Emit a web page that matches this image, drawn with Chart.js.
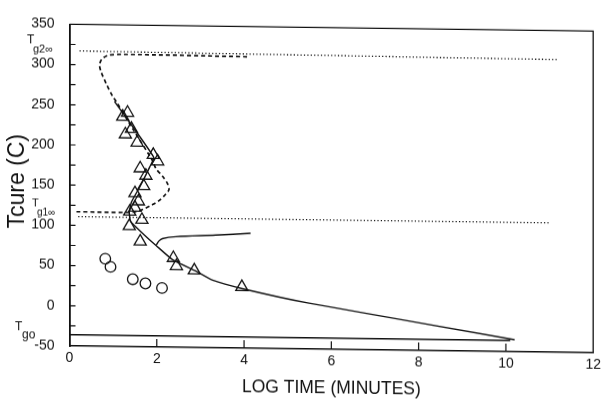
<!DOCTYPE html>
<html>
<head>
<meta charset="utf-8">
<script src="https://cdn.jsdelivr.net/npm/chart.js@4.4.1/dist/chart.umd.min.js"></script>
<style>
  html, body { margin: 0; padding: 0; background: #fff; }
  #wrap { width: 605px; height: 400px; transform: skewY(0.75deg); transform-origin: 0 0; }
</style>
</head>
<body>
<div id="wrap"><canvas id="c" width="605" height="400"></canvas></div>
<script>
// Axis ticks
const xTickValues = [0, 2, 4, 6, 8, 10, 12];
const yTickValues = [-50, 0, 50, 100, 150, 200, 250, 300, 350];

// Glass transition reference lines (log time, temperature)
const tg2X = [0.23, 11.2];  const tg2Y = [317, 314];   // Tg2 infinity (dotted)
const tg1X = [0.20, 11.0];  const tg1Y = [111, 111];   // Tg1 infinity (dotted)
const tg0X = [0.00, 10.1];  const tg0Y = [-36, -36];   // Tg0 (solid)

// Model curve, dashed
const dashX = [0.16, 1.30, 1.50, 1.68, 1.90, 2.05, 2.20, 2.28, 2.25, 2.14, 1.98, 1.90, 1.45, 1.08, 0.99, 0.84, 0.72, 0.69, 0.74, 0.88, 1.20, 4.11];
const dashY = [117, 117, 118, 121, 127, 132, 140, 146, 153, 162, 172, 182, 221, 254, 261, 277, 292, 300, 307, 312, 313.5, 312.5];

// Model curve, solid
const solidX = [1.03, 1.93, 1.84, 1.62, 1.42, 1.37, 1.40, 1.70, 1.99, 2.36, 2.90, 3.28, 3.96, 5.49, 10.2];
const solidY = [255, 186, 174, 150, 130, 118, 106, 90, 76, 59, 45, 34, 24, 7, -35];

// Side branch of the solid curve
const branchX = [1.99, 2.05, 2.13, 2.44, 3.35, 4.15];
const branchY = [77, 82, 85, 87.6, 90.2, 93];

// Measured points: triangles
const triX = [1.22, 1.33, 1.28, 1.42, 1.55, 1.92, 2.02, 1.62, 1.75, 1.70, 1.50, 1.58, 1.50, 1.38, 1.66, 1.37, 1.62, 2.38, 2.45, 2.86, 3.95];
const triY = [236, 241, 214, 221, 204, 189, 181, 172, 163, 150, 141, 131, 123, 118, 108, 100, 81, 61, 51, 46, 26];

// Measured points: circles
const circX = [0.82, 0.94, 1.45, 1.74, 2.12];
const circY = [59, 49, 34, 29, 23.5];

const pts = (xs, ys) => xs.map((x, i) => ({ x, y: ys[i] }));
const INK = '#111';
const TICK_FONT = "'Liberation Sans Narrow', 'Liberation Sans', Arial, sans-serif";
const TEXT_FONT = "'Liberation Sans', Arial, sans-serif";

function lineSet(xs, ys, extra) {
  return Object.assign({
    data: pts(xs, ys),
    showLine: true,
    borderColor: INK,
    borderWidth: 1.4,
    pointRadius: 0,
    fill: false,
    tension: 0
  }, extra || {});
}

// Inward tick marks and the top/right frame
const frameAndTicks = {
  id: 'frameAndTicks',
  afterDraw(chart) {
    const { ctx, chartArea: a, scales: { x, y } } = chart;
    ctx.save();
    ctx.strokeStyle = INK;
    ctx.lineWidth = 1.3;
    ctx.beginPath();
    ctx.moveTo(a.left, a.top);
    ctx.lineTo(a.right, a.top);
    ctx.lineTo(a.right, a.bottom);
    ctx.stroke();
    ctx.lineWidth = 1.2;
    ctx.beginPath();
    x.ticks.forEach(t => {
      if (t.value <= x.min || t.value >= x.max) return;
      const px = x.getPixelForValue(t.value);
      ctx.moveTo(px, a.bottom);
      ctx.lineTo(px, a.bottom - 8);
    });
    y.ticks.forEach(t => {
      if (t.value <= y.min || t.value >= y.max) return;
      const py = y.getPixelForValue(t.value);
      ctx.moveTo(a.left, py);
      ctx.lineTo(a.left + 6, py);
    });
    ctx.stroke();
    ctx.restore();
  }
};

// Axis title on the left and labels for the glass transition lines
const tgLabels = {
  id: 'tgLabels',
  afterDraw(chart) {
    const { ctx, scales: { y } } = chart;
    const draw = (left, lineVal, tDy, sub, subDx, subDy, size, subSize) => {
      const py = y.getPixelForValue(lineVal);
      ctx.font = size + 'px ' + TEXT_FONT;
      ctx.fillText('T', left, py + tDy);
      ctx.font = subSize + 'px ' + TEXT_FONT;
      ctx.fillText(sub, left + subDx, py + subDy);
    };
    ctx.save();
    ctx.fillStyle = INK;
    ctx.textBaseline = 'alphabetic';
    ctx.textAlign = 'left';
    draw(27, tg2Y[0], -6.5, 'g2\u221E', 6, 2.5, 12, 11);
    draw(32, tg1Y[0], -9.5, 'g1\u221E', 5, -0.5, 11, 10);
    draw(15, tg0Y[0], -3.5, 'go', 7, 4.5, 12, 12);

    ctx.translate(18, 181);
    ctx.rotate(-Math.PI / 2);
    ctx.textAlign = 'center';
    ctx.textBaseline = 'middle';
    ctx.font = '23px ' + TEXT_FONT;
    ctx.fillText('Tcure (C)', 0, 0);
    ctx.restore();
  }
};

new Chart(document.getElementById('c'), {
  type: 'scatter',
  data: {
    datasets: [
      lineSet(tg2X, tg2Y, { borderDash: [1.2, 2.2], borderWidth: 1.3 }),
      lineSet(tg1X, tg1Y, { borderDash: [1.2, 2.2], borderWidth: 1.3 }),
      lineSet(tg0X, tg0Y, { borderWidth: 1.4 }),
      lineSet(dashX, dashY, { borderDash: [4, 3], borderWidth: 1.7, tension: 0.3 }),
      lineSet(solidX, solidY, { borderWidth: 1.4, tension: 0.15 }),
      lineSet(branchX, branchY, { borderWidth: 1.4, tension: 0.3 }),
      {
        data: pts(triX, triY),
        pointStyle: 'triangle',
        pointRadius: 7,
        pointBorderWidth: 1.3,
        borderColor: INK,
        backgroundColor: 'rgba(0,0,0,0)',
        showLine: false
      },
      {
        data: pts(circX, circY),
        pointStyle: 'circle',
        pointRadius: 5.3,
        pointBorderWidth: 1.3,
        borderColor: INK,
        backgroundColor: 'rgba(0,0,0,0)',
        showLine: false
      }
    ]
  },
  options: {
    responsive: false,
    animation: false,
    devicePixelRatio: 1,
    layout: { padding: { top: 16, right: 9, left: 0, bottom: 0 } },
    plugins: { legend: { display: false }, tooltip: { enabled: false } },
    scales: {
      x: {
        type: 'linear',
        min: 0, max: 12,
        afterFit(s) { s.height = 55; },
        afterBuildTicks(s) { s.ticks = xTickValues.map(v => ({ value: v })); },
        ticks: { color: INK, font: { family: TICK_FONT, size: 14 }, padding: 4, maxRotation: 0 },
        grid: { display: false, drawTicks: false },
        border: { display: true, color: INK, width: 1.6 },
        title: {
          display: true,
          text: 'LOG TIME (MINUTES)',
          color: INK,
          font: { family: TEXT_FONT, size: 17.5 },
          padding: { top: 0, bottom: 5 }
        }
      },
      y: {
        type: 'linear',
        min: -50, max: 350,
        afterFit(s) { s.width = 69.5; },
        afterBuildTicks(s) {
          const out = [];
          for (let v = s.min; v <= s.max; v += 25) out.push({ value: v });
          s.ticks = out;
        },
        ticks: {
          color: INK,
          font: { family: TICK_FONT, size: 14 },
          padding: 15,
          autoSkip: false,
          callback: v => (yTickValues.includes(v) ? String(v) : '')
        },
        grid: { display: false, drawTicks: false },
        border: { display: true, color: INK, width: 1.8 },
        title: { display: false }
      }
    }
  },
  plugins: [frameAndTicks, tgLabels]
});
</script>
</body>
</html>
